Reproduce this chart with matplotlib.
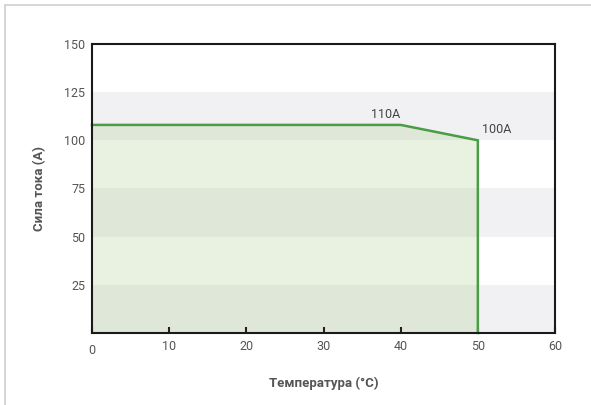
import numpy as np
import matplotlib.pyplot as plt
from matplotlib.lines import Line2D

# derating curve
temps = [0, 40, 50]
current = [108, 108, 100]
labels = ["110A", "100A"]
label_at = [40, 50]

bands = [0, 50, 100]  # gray band starts, each 25 high
xticks = [0, 10, 20, 30, 40, 50, 60]
yticks = [25, 50, 75, 100, 125, 150]

fig = plt.figure(figsize=(5.91, 4.05), dpi=100)
ax = fig.add_axes([0.1557, 0.1778, 0.7834, 0.7136])

for b in bands:
    ax.axhspan(b, b + 25, color="#f1f1f4", lw=0, zorder=0)

ax.fill_between(temps, 0, current, color="#9bc670", alpha=0.21, lw=0, zorder=1)
ax.plot(temps + [temps[-1]], current + [0], color="#4a9d44", lw=1.8, zorder=3,
        solid_joinstyle="miter", clip_on=False)

ax.text(label_at[0], current[1] + 2, labels[0], ha="right", va="bottom",
        fontsize=9, color="#444444", family="Roboto")
ax.text(label_at[1] + 0.5, current[2] + 2, labels[1], ha="left", va="bottom",
        fontsize=9, color="#444444", family="Roboto")

ax.set_xlim(0, 60)
ax.set_ylim(0, 150)
ax.set_xticks(xticks)
ax.set_yticks(yticks)
ax.set_xticklabels([str(t) for t in xticks], fontsize=9, color="#555555", family="Roboto")
ax.set_yticklabels([str(t) for t in yticks], fontsize=9, color="#555555", family="Roboto")
ax.get_xticklabels()[0].set_y(-0.015)
ax.get_xticklabels()[0].set_x(0.6)
ax.tick_params(axis="x", direction="in", length=4, width=1.5, color="#222222", pad=5)
ax.tick_params(axis="y", length=0, pad=5)

for s in ax.spines.values():
    s.set_color("#1a1a1a")
    s.set_linewidth(1.5)
    s.set_zorder(4)

ax.set_xlabel("Температура (°C)", fontsize=9.5, fontweight="bold", color="#555555",
              family="Roboto", labelpad=14)
ax.set_ylabel("Сила тока (A)", fontsize=9.5, fontweight="bold", color="#555555",
              family="Roboto", labelpad=13)

# panel frame
fig.add_artist(Line2D([5 / 591, 1], [1 - 5 / 405, 1 - 5 / 405], color="#d0d0d0", lw=1.2))
fig.add_artist(Line2D([5 / 591, 5 / 591], [0, 1 - 5 / 405], color="#d0d0d0", lw=1.2))

fig.savefig("out.png", dpi=100)
